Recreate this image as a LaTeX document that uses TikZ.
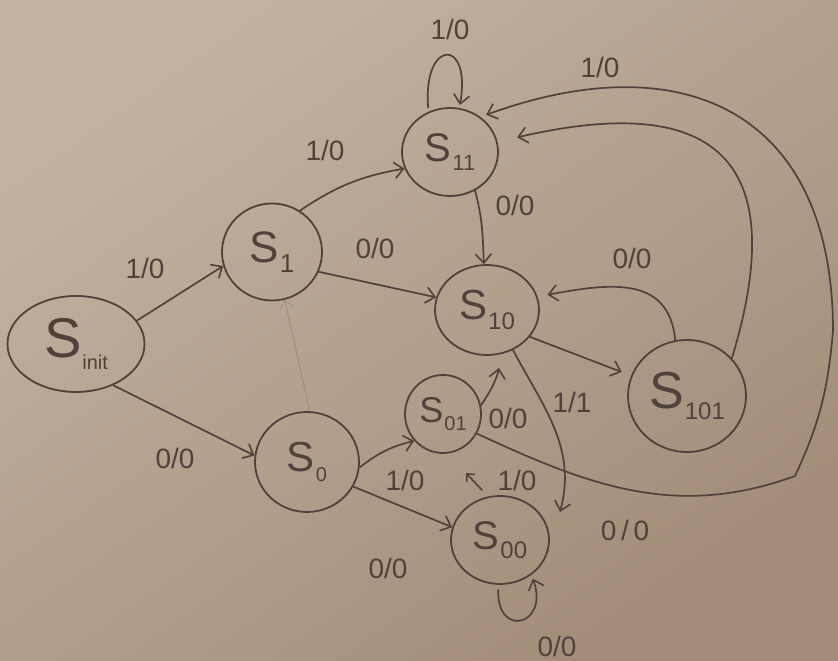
\documentclass[tikz,border=0pt]{standalone}
\usepackage{fontspec}
\setmainfont{Liberation Sans}
\usetikzlibrary{arrows.meta,shapes.geometric,calc}

\definecolor{inkc}{HTML}{50413B}
\definecolor{paperA}{HTML}{C2B3A1}
\definecolor{paperB}{HTML}{A38D79}

% state name: big S with a lowered index
\newcommand\stname[3]{\fontsize{#1}{#1}\selectfont S\kern1pt\raisebox{-0.22em}{\fontsize{#2}{#2}\selectfont #3}}

\begin{document}
\begin{tikzpicture}[x=1pt,y=1pt,
  state/.style={ellipse, draw=inkc, line width=1.8pt, inner sep=0pt, text=inkc},
  edge/.style={draw=inkc, line width=1.7pt, line cap=round,
    -{Straight Barb[length=9pt,width=16pt,line width=1.6pt]}},
  faint/.style={draw=inkc, draw opacity=0.18, line width=1pt,
    -{Straight Barb[length=8pt,width=14pt]}},
  lbl/.style={text=inkc, font=\fontsize{28}{28}\selectfont, inner sep=0pt}]

\useasboundingbox (0,0) rectangle (838,661);
\shade[top color=paperA, bottom color=paperB, shading angle=35] (0,0) rectangle (838,661);

% states
\node[state, minimum width=137pt, minimum height=96pt]  (init) at (76,317)  {\stname{56}{20}{init}};
\node[state, minimum width=100pt, minimum height=97pt]  (s1)   at (272,409) {\stname{44}{26}{1}};
\node[state, minimum width=96pt,  minimum height=88pt]  (s11)  at (450,509) {\stname{40}{22}{11}};
\node[state, minimum width=104pt, minimum height=90pt]  (s10)  at (487,351) {\stname{42}{24}{10}};
\node[state, minimum width=118pt, minimum height=112pt] (s101) at (687,265) {\stname{52}{24}{101}};
\node[state, minimum width=76pt,  minimum height=78pt]  (s01)  at (443,247) {\stname{36}{20}{01}};
\node[state, minimum width=104pt, minimum height=100pt] (s0)   at (307,199) {\stname{42}{20}{0}};
\node[state, minimum width=98pt,  minimum height=88pt]  (s00)  at (500,121) {\stname{40}{24}{00}};

% helper points for the long return path and the loose arrow end
\coordinate (c1) at (795,185);
\coordinate (c2) at (833,330);
\coordinate (t00) at (560,149);

% transitions
\draw[edge] (init.21) -- (s1.196);
\draw[edge] (init.312) -- (s0.173);
\draw[edge] (s1.56) to[bend left=12] (s11.200);
\draw[edge] (s1.337) -- (s10.166);
\draw[edge] (s11.303) to[out=-75,in=92] (s10.94);
\draw[edge, shorten <=4pt, shorten >=3pt] (s11.118) to[out=95,in=80,looseness=6] (s11.78);
\draw[edge, shorten >=10pt] (s10.328) -- (s101.160);
\draw[edge, shorten >=10pt] (s101.102) to[out=95,in=10,looseness=1.2] (s10.15);
\draw[edge, shorten >=20pt] (s101.40) .. controls (778,455) and (760,580) .. (s11.12);
\draw[edge, shorten >=6pt] (s01.330) to[out=-25,in=200] (c1)
   to[out=65,in=-95] (c2) to[out=90,in=20,looseness=1.35] (s11.49);
\draw[edge] (s10.303) to[out=-62,in=75] (t00);
\draw[edge, shorten >=14pt] (s01.13) to[out=55,in=-100] (s10.288);
\draw[edge] (s0.354) to[bend left=12] (s01.223);
\draw[edge] (s0.332) -- (s00.165);
\draw[draw=inkc, line width=1.6pt, line cap=round,
  -{Straight Barb[length=6pt,width=11pt,line width=1.5pt]}]
  ($(s00)+(-18,50)$) -- ($(s00)+(-34,67)$);
\draw[edge, shorten <=5pt, shorten >=4pt] (s00.268) to[out=-92,in=-70,looseness=4] (s00.312);
\draw[faint] (s0.87) -- (s1.285);

% transition labels
\node[lbl] (l1)  at (145,393) {1/0};
\node[lbl] (l2)  at (175,203) {0/0};
\node[lbl] (l3)  at (325,511) {1/0};
\node[lbl] (l4)  at (375,413) {0/0};
\node[lbl] (l5)  at (450,631) {1/0};
\node[lbl] (l6)  at (515,456) {0/0};
\node[lbl] (l7)  at (600,593) {1/0};
\node[lbl] (l8)  at (632,403) {0/0};
\node[lbl] (l9)  at (572,259) {1/1};
\node[lbl] (l10) at (508,243) {0/0};
\node[lbl] (l11) at (405,181) {1/0};
\node[lbl] (l12) at (517,181) {1/0};
\node[lbl] (l13) at (388,93)  {0/0};
\node[lbl] (l14) at (625,131) {0\,/\,0};
\node[lbl] (l15) at (557,15)  {0/0};
\end{tikzpicture}
\end{document}
